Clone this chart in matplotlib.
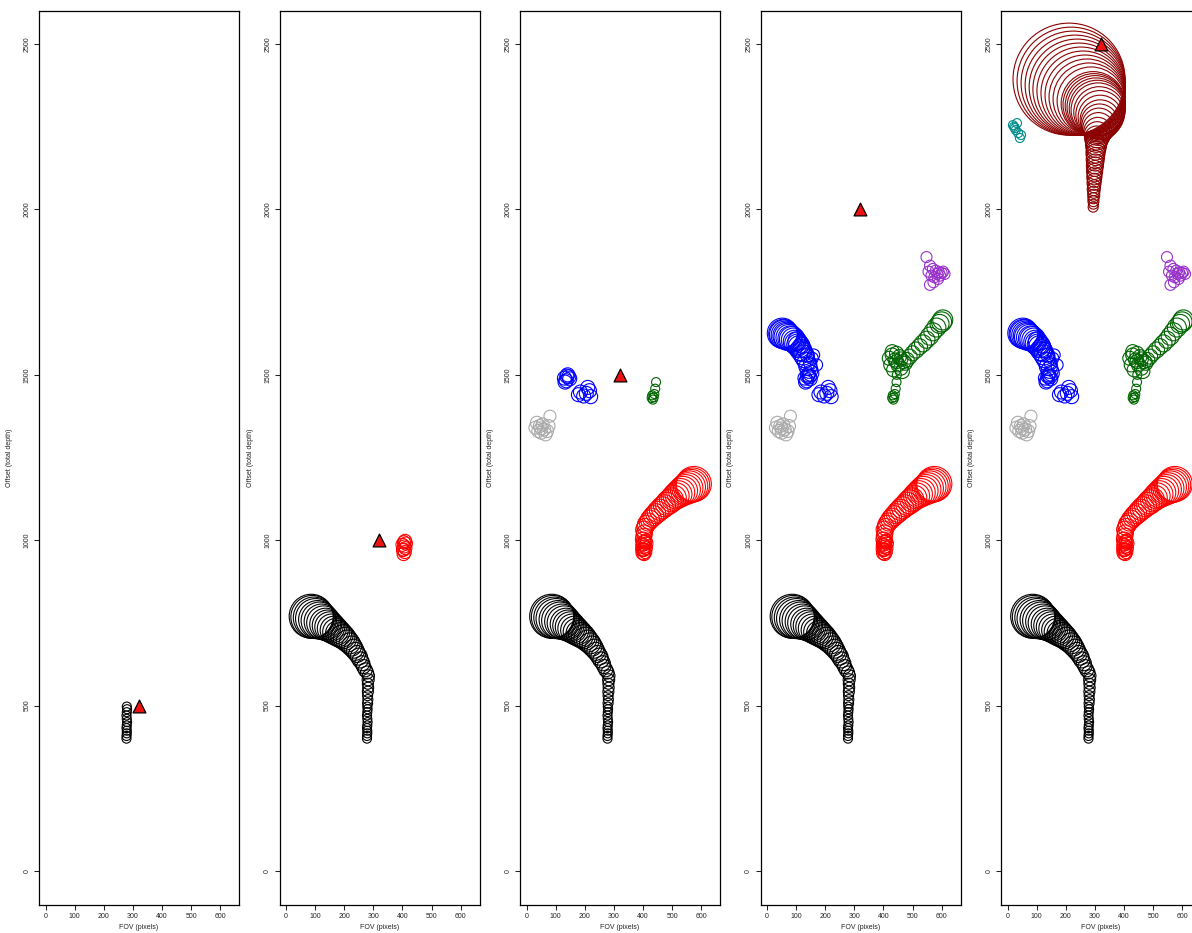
"""
five snapshots of the search: circles are visited positions, triangle is the target
"""
import matplotlib
matplotlib.use("Agg")
import matplotlib.pyplot as plt
import numpy as np

plt.rcParams['font.family'] = ['Liberation Sans', 'DejaVu Sans']

# target position for each snapshot
targetX = [320, 320, 320, 320, 320]
targetY = [500, 1000, 1500, 2000, 2500]

# black walker
blkX = [278, 278, 279, 279, 278, 279, 280, 279, 278, 279, 280, 279,
        280, 281, 280, 281, 282, 281, 282, 283,
        278, 272, 266, 262, 255, 250, 244, 238, 232, 225, 218, 210, 202, 195, 187, 180,
        172, 165, 157, 150, 143, 136, 129, 122, 115, 108, 101, 95, 90, 86]
blkY = [400, 408, 416, 424, 432, 440, 450, 460, 470, 480, 489, 497,
        507, 518, 530, 542, 554, 566, 578, 590,
        600, 608, 618, 628, 638, 648, 656, 664, 672, 680, 688, 695, 702, 708, 713, 718,
        723, 728, 733, 738, 742, 746, 750, 754, 757, 760, 763, 766, 768, 770]
blkW = [9, 9, 9, 9, 9, 9, 9, 9, 9, 9, 9, 9,
        10, 10, 10, 11, 11, 11, 12, 12,
        13, 14, 14, 15, 16, 17, 17, 18, 19, 20, 21, 22, 23, 24, 25, 26,
        27, 28, 29, 30, 31, 32, 34, 35, 37, 38, 40, 41, 43, 44]
blkStage = [1] * 12 + [2] * 38

# red walker
redX = [404, 408, 402, 410, 406, 400, 412, 405, 409, 403,
        400, 399, 401, 402, 400, 403, 405, 404, 408, 412, 418, 424, 430, 437,
        444, 451, 458, 466, 474, 482, 490, 498, 506, 514, 522, 530, 538, 546,
        553, 560, 566, 571, 575]
redY = [958, 964, 970, 976, 981, 986, 990, 994, 998, 972,
        962, 972, 982, 992, 1002, 1012, 1022, 1032, 1040, 1048, 1055, 1062, 1068, 1074,
        1080, 1086, 1092, 1098, 1104, 1110, 1116, 1122, 1128, 1134, 1139, 1144, 1149, 1153,
        1157, 1161, 1164, 1167, 1170]
redW = [13, 13, 13, 13, 13, 13, 13, 13, 13, 13,
        14, 14, 15, 15, 15, 16, 16, 17, 17, 18, 18, 19, 19, 20,
        20, 21, 21, 22, 22, 23, 24, 24, 25, 26, 27, 28, 29, 30,
        31, 32, 33, 34, 35]
redStage = [2] * 10 + [3] * 33

# blue walker
bluX = [130, 138, 145, 136, 148, 141, 132, 178, 185, 196, 210, 216, 220, 205,
        150, 145, 140, 148, 155, 170, 160, 135, 130, 138, 125, 120, 128, 115,
        110, 118, 105, 100, 95, 102, 90, 85, 80, 75, 70, 66, 62, 58, 55, 52]
bluY = [1490, 1496, 1494, 1482, 1488, 1500, 1478, 1440, 1448, 1436, 1462, 1452, 1434, 1444,
        1505, 1515, 1525, 1535, 1550, 1530, 1560, 1540, 1550, 1560, 1560, 1570, 1575, 1575,
        1585, 1590, 1590, 1595, 1600, 1602, 1605, 1608, 1610, 1613, 1615, 1618, 1620, 1622,
        1624, 1626]
bluW = [14, 14, 14, 14, 14, 14, 14, 14, 14, 14, 14, 14, 14, 14,
        16, 17, 18, 13, 12, 12, 12, 18, 19, 14, 20, 20, 15, 21,
        22, 16, 22, 23, 23, 18, 24, 25, 25, 26, 27, 27, 28, 29, 29, 30]
bluStage = [3] * 14 + [4] * 30

# grey walker
gryX = [30, 40, 50, 60, 70, 45, 55, 65, 35, 75, 50, 80]
gryY = [1340, 1330, 1325, 1335, 1330, 1345, 1350, 1320, 1355, 1345, 1338, 1375]
gryW = [13, 13, 13, 13, 13, 13, 13, 13, 13, 13, 13, 12]
gryStage = [3] * 12

# green walker
grnX = [434, 430, 437, 432, 439, 442, 445,
        446, 420, 430, 440, 450, 460, 470, 425, 435, 445, 455, 465, 475, 430,
        445, 460, 480, 490, 500, 512, 524, 536, 548, 559, 570, 582, 593, 600, 604]
grnY = [1425, 1430, 1432, 1438, 1442, 1458, 1478,
        1500, 1550, 1560, 1545, 1530, 1520, 1540, 1530, 1515, 1565, 1555, 1510, 1535, 1570,
        1540, 1548, 1545, 1555, 1565, 1575, 1585, 1595, 1606, 1617, 1630, 1643, 1654, 1660, 1666]
grnW = [9, 9, 9, 9, 9, 9, 9,
        9, 14, 14, 14, 14, 14, 14, 14, 14, 14, 14, 14, 14, 14,
        14, 14, 15, 15, 15, 16, 16, 17, 17, 18, 18, 19, 19, 20, 20]
grnStage = [3] * 7 + [4] * 29

# purple walker
purX = [548, 560, 570, 580, 590, 600, 610, 565, 575, 585, 595, 555, 605, 572, 588, 560]
purY = [1856, 1830, 1820, 1815, 1810, 1808, 1805, 1800, 1795, 1805, 1800, 1812, 1812, 1780, 1790, 1772]
purW = [11] * 16
purStage = [4] * 16

# dark red walker
drdX = [294, 295, 295, 295, 296, 296, 296, 297, 297, 298, 298, 299, 299, 300, 300,
        301, 301, 302, 302, 303, 304, 304, 305,
        306, 308, 310, 312, 314, 316, 318, 318, 317, 315,
        311, 308, 304, 301, 297, 294, 287, 280, 273, 266, 259, 252, 245,
        239, 232, 225, 218, 211]
drdY = [2007, 2016, 2025, 2034, 2043, 2052, 2061, 2070, 2079, 2088, 2097, 2106, 2115, 2124, 2133,
        2142, 2151, 2160, 2169, 2178, 2187, 2196, 2206,
        2216, 2226, 2236, 2246, 2255, 2263, 2271, 2279, 2287, 2294,
        2301, 2306, 2310, 2314, 2317, 2320, 2328, 2334, 2340, 2346, 2352, 2358, 2364,
        2370, 2376, 2382, 2388, 2394]
drdW = [10, 10, 11, 11, 12, 12, 13, 13, 14, 14, 15, 15, 16, 16, 17,
        17, 18, 18, 19, 19, 20, 21, 22,
        24, 26, 28, 31, 34, 37, 40, 44, 48, 51,
        54, 56, 58, 60, 62, 64, 68, 72, 76, 80, 84, 88, 92,
        96, 100, 104, 108, 112]
drdStage = [5] * 51

# teal walker
tealX = [18, 32, 25, 36, 42, 46, 28, 22]
tealY = [2255, 2261, 2246, 2231, 2216, 2225, 2240, 2250]
tealW = [9, 9, 9, 9, 9, 9, 9, 9]
tealStage = [5] * 8

walkers = [
    (blkX, blkY, blkW, blkStage, 'black'),
    (redX, redY, redW, redStage, '#ff0000'),
    (bluX, bluY, bluW, bluStage, '#0000ff'),
    (gryX, gryY, gryW, gryStage, '#aaaaaa'),
    (grnX, grnY, grnW, grnStage, '#006400'),
    (purX, purY, purW, purStage, '#9932cc'),
    (drdX, drdY, drdW, drdStage, '#8b0000'),
    (tealX, tealY, tealW, tealStage, '#008b8b'),
]

fig = plt.figure(figsize=(11.92, 9.33), dpi=100)

for k in range(5):
    left = (39 + 240.5 * k) / 1192.
    ax = fig.add_axes([left, 28 / 933., 200 / 1192., 894 / 933.])

    # all walkers up to this snapshot
    for xs, ys, ws, st, col in walkers:
        xs = np.array(xs)
        ys = np.array(ys)
        ws = np.array(ws, dtype=float)
        st = np.array(st)
        keep = st <= k + 1
        if keep.sum() == 0:
            continue
        ax.scatter(xs[keep], ys[keep], s=(0.72 * ws[keep]) ** 2, facecolors='none',
                   edgecolors=col, linewidths=0.8)

    # target
    ax.scatter([targetX[k]], [targetY[k]], marker='^', s=85, facecolors='#ee1111',
               edgecolors='black', linewidths=0.9, zorder=5)

    ax.set_xlim(-23, 665)
    ax.set_ylim(-103, 2600)
    ax.set_xticks(np.arange(0, 601, 100))
    ax.set_yticks(np.arange(0, 2501, 500))
    ax.tick_params(direction='out', length=3.5, width=0.75, labelsize=5, pad=2.5,
                   colors='#222222')
    for lab in ax.get_yticklabels():
        lab.set_rotation(90)
        lab.set_va('center')
    for sp in ax.spines.values():
        sp.set_linewidth(0.9)

    ax.set_xlabel("FOV (pixels)", fontsize=5, color='#222222')
    ax.set_ylabel("Offset (total depth)", fontsize=5, color='#222222')
    ax.xaxis.set_label_coords(0.5, -0.021)
    ax.yaxis.set_label_coords(-0.13, 0.5)

plt.savefig("out.png", dpi=100)
